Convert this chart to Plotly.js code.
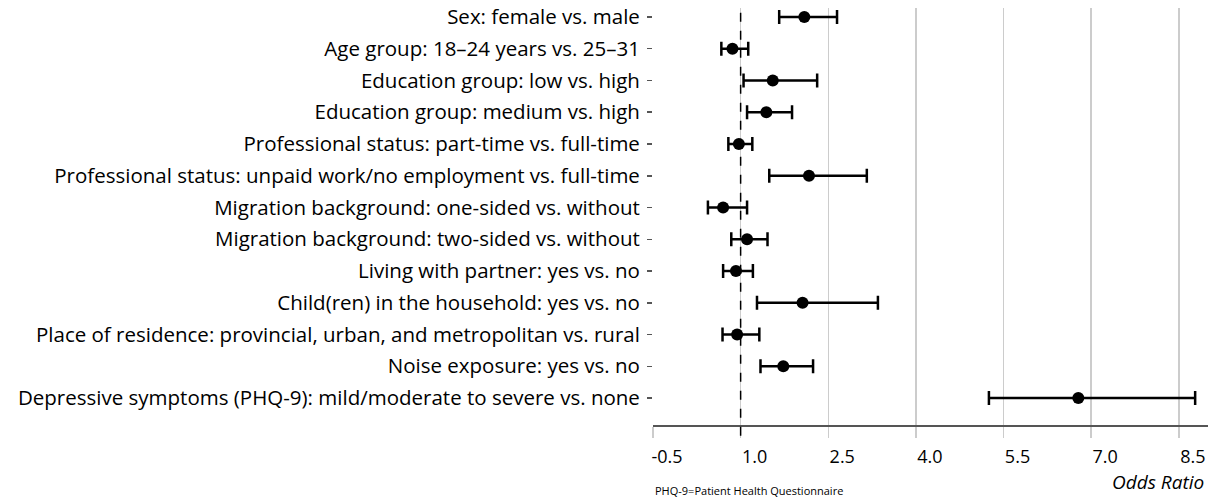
<!DOCTYPE html>
<html>
<head>
<meta charset="utf-8">
<script src="https://cdn.plot.ly/plotly-3.0.1.min.js"></script>
<style>html,body{margin:0;padding:0;background:#fff;}#chart{width:1208px;height:500px;}</style>
</head>
<body>
<div id="chart"></div>
<script>
const categories = [
  "Sex: female vs. male",
  "Age group: 18–24 years vs. 25–31",
  "Education group: low vs. high",
  "Education group: medium vs. high",
  "Professional status: part-time vs. full-time",
  "Professional status: unpaid work/no employment vs. full-time",
  "Migration background: one-sided vs. without",
  "Migration background: two-sided vs. without",
  "Living with partner: yes vs. no",
  "Child(ren) in the household: yes vs. no",
  "Place of residence: provincial, urban, and metropolitan vs. rural",
  "Noise exposure: yes vs. no",
  "Depressive symptoms (PHQ-9): mild/moderate to severe vs. none"
];
const oddsRatio = [2.09, 0.86, 1.55, 1.44, 0.97, 2.17, 0.70, 1.11, 0.92, 2.06, 0.94, 1.73, 6.78];
const ciLower   = [1.66, 0.67, 1.05, 1.11, 0.79, 1.49, 0.44, 0.84, 0.70, 1.28, 0.69, 1.34, 5.25];
const ciUpper   = [2.65, 1.13, 2.31, 1.88, 1.20, 3.16, 1.11, 1.46, 1.21, 3.35, 1.32, 2.24, 8.78];
const xTicks = [-0.5, 1.0, 2.5, 4.0, 5.5, 7.0, 8.5];
const xTickLabels = ["-0.5", "1.0", "2.5", "4.0", "5.5", "7.0", "8.5"];
const referenceValue = 1.0;

const FONT = "Open Sans, Noto Sans, sans-serif";

const trace = {
  type: "scatter",
  mode: "markers",
  x: oddsRatio,
  y: categories,
  marker: {color: "#000", size: 12},
  error_x: {
    type: "data",
    symmetric: false,
    array: oddsRatio.map((v, i) => ciUpper[i] - v),
    arrayminus: oddsRatio.map((v, i) => v - ciLower[i]),
    color: "#000",
    thickness: 2.5,
    width: 7
  },
  hoverinfo: "x+y",
  showlegend: false
};

const layout = {
  width: 1208,
  height: 500,
  margin: {l: 653, r: 0, t: 8, b: 75},
  paper_bgcolor: "#fff",
  plot_bgcolor: "#fff",
  font: {family: FONT, color: "#000", size: 20},
  xaxis: {
    range: [-0.5, 9.0],
    tickvals: xTicks,
    ticktext: xTickLabels,
    ticks: "outside",
    ticklen: 11,
    tickwidth: 1.5,
    tickcolor: "#cccccc",
    ticklabelshift: 14,
    ticklabelstandoff: 4,
    showgrid: true,
    gridcolor: "#cccccc",
    gridwidth: 1.5,
    zeroline: false,
    showline: true,
    linecolor: "#555555",
    linewidth: 1.5,
    tickfont: {family: FONT, size: 18, color: "#000"},
    fixedrange: true
  },
  yaxis: {
    type: "category",
    range: [12.85, -0.283],
    ticks: "outside",
    ticklen: 5,
    tickwidth: 1.5,
    tickcolor: "#555555",
    ticklabelstandoff: 3,
    showgrid: false,
    zeroline: false,
    showline: false,
    tickfont: {family: FONT, size: 20.5, color: "#000"},
    fixedrange: true
  },
  shapes: [{
    type: "line",
    xref: "x", yref: "paper",
    x0: referenceValue, x1: referenceValue,
    y0: -0.026, y1: 1,
    line: {color: "#000", width: 1.5, dash: "dash"}
  }],
  annotations: [
    {
      text: "<i>Odds Ratio</i>",
      xref: "paper", yref: "paper",
      x: 0.997, y: -0.137,
      xanchor: "right", yanchor: "middle",
      showarrow: false,
      font: {family: FONT, size: 19, color: "#000"}
    },
    {
      text: "PHQ-9=Patient Health Questionnaire",
      xref: "paper", yref: "paper",
      x: 0, y: -0.158,
      xanchor: "left", yanchor: "middle",
      showarrow: false,
      font: {family: FONT, size: 11, color: "#000"}
    }
  ]
};

Plotly.newPlot("chart", [trace], layout, {displayModeBar: false, staticPlot: true});
</script>
</body>
</html>
